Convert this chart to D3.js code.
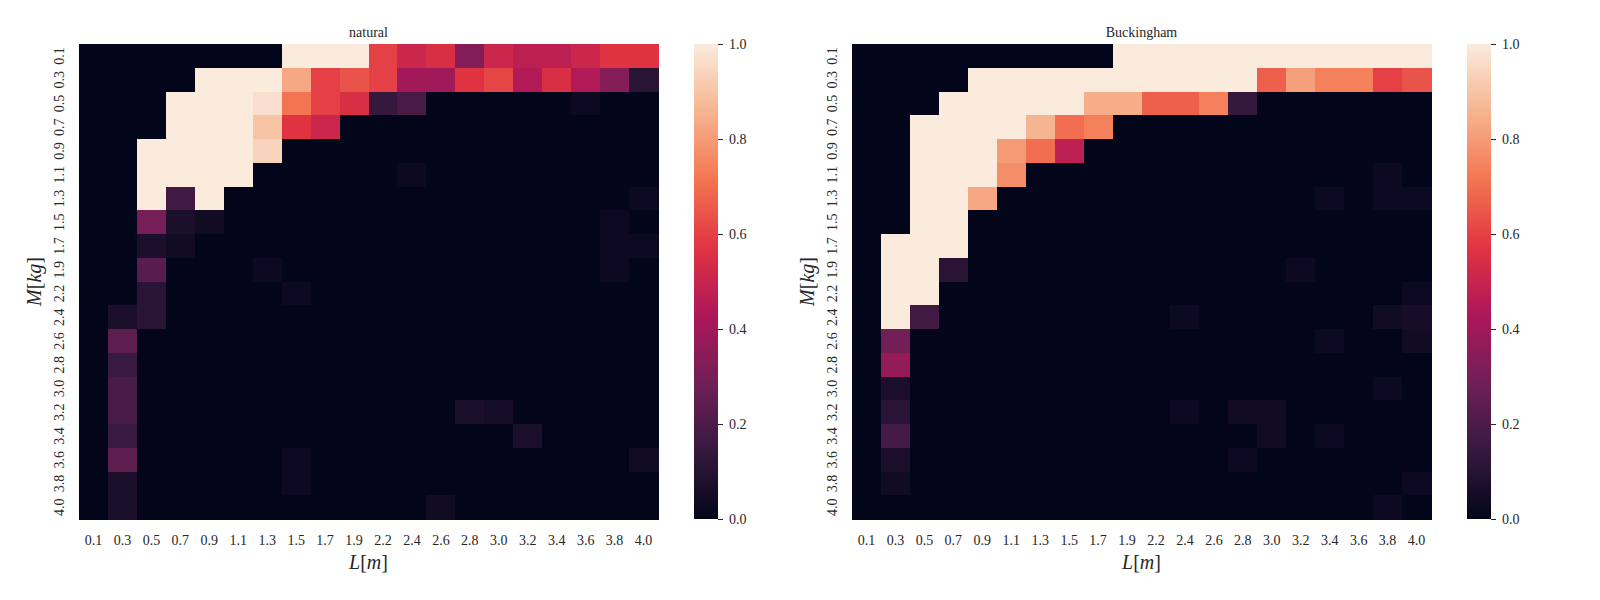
<!DOCTYPE html>
<html>
<head>
<meta charset="utf-8">
<script src="https://cdn.jsdelivr.net/npm/d3@7"></script>
<style>
  body { margin: 0; background: #fff; }
  svg text { font-family: "Liberation Serif", "Times New Roman", "DejaVu Serif", serif !important; fill: #262626; }
</style>
</head>
<body>
<div id="chart"></div>
<script>
const width = 1600, height = 600;

// axis categories
const lengths = ["0.1","0.3","0.5","0.7","0.9","1.1","1.3","1.5","1.7","1.9",
                 "2.2","2.4","2.6","2.8","3.0","3.2","3.4","3.6","3.8","4.0"];
const masses  = ["0.1","0.3","0.5","0.7","0.9","1.1","1.3","1.5","1.7","1.9",
                 "2.2","2.4","2.6","2.8","3.0","3.2","3.4","3.6","3.8","4.0"];
const colorTicks = [0, 0.2, 0.4, 0.6, 0.8, 1.0];

// rows = mass, columns = length
const natural = [
  [0,0,0,0,0,0,0,1,1,1,0.6,0.51,0.55,0.33,0.51,0.47,0.47,0.51,0.57,0.57],
  [0,0,0,0,1,1,1,0.83,0.6,0.64,0.6,0.4,0.4,0.57,0.61,0.44,0.55,0.44,0.33,0.11],
  [0,0,0,1,1,1,0.97,0.71,0.6,0.55,0.14,0.19,0,0,0,0,0,0.03,0,0],
  [0,0,0,1,1,1,0.9,0.57,0.51,0,0,0,0,0,0,0,0,0,0,0],
  [0,0,1,1,1,1,0.94,0,0,0,0,0,0,0,0,0,0,0,0,0],
  [0,0,1,1,1,1,0,0,0,0,0,0.03,0,0,0,0,0,0,0,0],
  [0,0,1,0.17,1,0,0,0,0,0,0,0,0,0,0,0,0,0,0,0.03],
  [0,0,0.3,0.07,0.04,0,0,0,0,0,0,0,0,0,0,0,0,0,0.03,0],
  [0,0,0.07,0.04,0,0,0,0,0,0,0,0,0,0,0,0,0,0,0.03,0.03],
  [0,0,0.23,0,0,0,0.03,0,0,0,0,0,0,0,0,0,0,0,0.03,0],
  [0,0,0.11,0,0,0,0,0.03,0,0,0,0,0,0,0,0,0,0,0,0],
  [0,0.07,0.11,0,0,0,0,0,0,0,0,0,0,0,0,0,0,0,0,0],
  [0,0.24,0,0,0,0,0,0,0,0,0,0,0,0,0,0,0,0,0,0],
  [0,0.15,0,0,0,0,0,0,0,0,0,0,0,0,0,0,0,0,0,0],
  [0,0.19,0,0,0,0,0,0,0,0,0,0,0,0,0,0,0,0,0,0],
  [0,0.19,0,0,0,0,0,0,0,0,0,0,0,0.07,0.05,0,0,0,0,0],
  [0,0.15,0,0,0,0,0,0,0,0,0,0,0,0,0,0.07,0,0,0,0],
  [0,0.24,0,0,0,0,0,0.03,0,0,0,0,0,0,0,0,0,0,0,0.04],
  [0,0.07,0,0,0,0,0,0.03,0,0,0,0,0,0,0,0,0,0,0,0],
  [0,0.07,0,0,0,0,0,0,0,0,0,0,0.04,0,0,0,0,0,0,0]
];

const buckingham = [
  [0,0,0,0,0,0,0,0,0,1,1,1,1,1,1,1,1,1,1,1],
  [0,0,0,0,1,1,1,1,1,1,1,1,1,1,0.67,0.81,0.74,0.74,0.6,0.64],
  [0,0,0,1,1,1,1,1,0.84,0.84,0.67,0.67,0.74,0.14,0,0,0,0,0,0],
  [0,0,1,1,1,1,0.86,0.7,0.74,0,0,0,0,0,0,0,0,0,0,0],
  [0,0,1,1,1,0.8,0.7,0.47,0,0,0,0,0,0,0,0,0,0,0,0],
  [0,0,1,1,1,0.77,0,0,0,0,0,0,0,0,0,0,0,0,0.03,0],
  [0,0,1,1,0.83,0,0,0,0,0,0,0,0,0,0,0,0.03,0,0.03,0.03],
  [0,0,1,1,0,0,0,0,0,0,0,0,0,0,0,0,0,0,0,0],
  [0,1,1,1,0,0,0,0,0,0,0,0,0,0,0,0,0,0,0,0],
  [0,1,1,0.11,0,0,0,0,0,0,0,0,0,0,0,0.03,0,0,0,0],
  [0,1,1,0,0,0,0,0,0,0,0,0,0,0,0,0,0,0,0,0.03],
  [0,1,0.17,0,0,0,0,0,0,0,0,0.03,0,0,0,0,0,0,0.04,0.06],
  [0,0.29,0,0,0,0,0,0,0,0,0,0,0,0,0,0,0.03,0,0,0.04],
  [0,0.37,0,0,0,0,0,0,0,0,0,0,0,0,0,0,0,0,0,0],
  [0,0.07,0,0,0,0,0,0,0,0,0,0,0,0,0,0,0,0,0.03,0],
  [0,0.11,0,0,0,0,0,0,0,0,0,0.03,0,0.04,0.04,0,0,0,0,0],
  [0,0.18,0,0,0,0,0,0,0,0,0,0,0,0,0.04,0,0.03,0,0,0],
  [0,0.07,0,0,0,0,0,0,0,0,0,0,0,0.03,0,0,0,0,0,0],
  [0,0.04,0,0,0,0,0,0,0,0,0,0,0,0,0,0,0,0,0,0.03],
  [0,0,0,0,0,0,0,0,0,0,0,0,0,0,0,0,0,0,0.03,0]
];

// seaborn "rocket" approximated by its sampled palette
const rocketStops = [0, 1/7, 2/7, 3/7, 4/7, 5/7, 6/7, 1];
const rocketColors = ["#03051a","#35193e","#701f57","#ad1759","#e13342","#f37651","#f6b48f","#faebdd"];
const color = d3.scaleLinear().domain(rocketStops).range(rocketColors)
  .interpolate(d3.interpolateRgb).clamp(true);

const serif = "'Liberation Serif', 'Times New Roman', 'DejaVu Serif', serif";

const svg = d3.select("#chart").append("svg")
  .attr("width", width)
  .attr("height", height)
  .attr("font-family", serif);

const plotTop = 44, plotBottom = 519;

const defs = svg.append("defs");
const grad = defs.append("linearGradient")
  .attr("id", "cbar")
  .attr("x1", "0%").attr("x2", "0%")
  .attr("y1", "100%").attr("y2", "0%");
d3.range(0, 1.0001, 0.02).forEach(t => {
  grad.append("stop").attr("offset", `${t * 100}%`).attr("stop-color", color(t));
});

function heatmap(data, title, x0, x1, cbx) {
  const g = svg.append("g");
  const x = d3.scaleBand().domain(lengths).range([x0, x1]);
  const y = d3.scaleBand().domain(masses).range([plotTop, plotBottom]);

  const cells = [];
  data.forEach((row, i) => row.forEach((v, j) => cells.push({m: masses[i], l: lengths[j], v})));

  g.append("g").attr("shape-rendering", "crispEdges")
    .selectAll("rect").data(cells).join("rect")
    .attr("x", d => x(d.l))
    .attr("y", d => y(d.m))
    .attr("width", x.bandwidth() + 0.5)
    .attr("height", y.bandwidth() + 0.5)
    .attr("fill", d => color(d.v));

  // x tick labels
  g.append("g").selectAll("text").data(lengths).join("text")
    .attr("x", d => x(d) + x.bandwidth() / 2)
    .attr("y", 545)
    .attr("text-anchor", "middle")
    .attr("font-size", "14px")
    .text(d => d);

  // y tick labels, vertical
  g.append("g").selectAll("text").data(masses).join("text")
    .attr("transform", d => `translate(${x0 - 15},${y(d) + y.bandwidth() / 2}) rotate(-90)`)
    .attr("text-anchor", "middle")
    .attr("font-size", "14px")
    .text(d => d);

  // title
  g.append("text")
    .attr("x", (x0 + x1) / 2)
    .attr("y", 37)
    .attr("text-anchor", "middle")
    .attr("font-size", "14px")
    .text(title);

  // axis labels
  const xl = g.append("text")
    .attr("x", (x0 + x1) / 2)
    .attr("y", 569)
    .attr("text-anchor", "middle")
    .attr("font-size", "20px");
  xl.append("tspan").attr("font-style", "italic").text("L");
  xl.append("tspan").text("[");
  xl.append("tspan").attr("font-style", "italic").text("m");
  xl.append("tspan").text("]");

  const yl = g.append("text")
    .attr("transform", `translate(${x0 - 38},${(plotTop + plotBottom) / 2}) rotate(-90)`)
    .attr("text-anchor", "middle")
    .attr("font-size", "20px");
  yl.append("tspan").attr("font-style", "italic").text("M");
  yl.append("tspan").text("[");
  yl.append("tspan").attr("font-style", "italic").text("kg");
  yl.append("tspan").text("]");

  // colorbar
  const cbw = 24;
  g.append("rect")
    .attr("x", cbx).attr("y", plotTop)
    .attr("width", cbw).attr("height", plotBottom - plotTop)
    .attr("fill", "url(#cbar)");

  const cs = d3.scaleLinear().domain([0, 1]).range([plotBottom, plotTop]);
  const ax = g.append("g")
    .attr("transform", `translate(${cbx + cbw},0)`)
    .call(d3.axisRight(cs).tickValues(colorTicks).tickFormat(d3.format(".1f")).tickSize(5).tickPadding(6));
  ax.attr("font-family", serif).attr("font-size", 14);
  ax.select(".domain").remove();
  ax.selectAll(".tick line").attr("stroke", "#262626").attr("stroke-width", 1);
  ax.selectAll(".tick text").attr("fill", "#262626");
}

heatmap(natural, "natural", 79, 658, 694);
heatmap(buckingham, "Buckingham", 852, 1431, 1467);
</script>
</body>
</html>
